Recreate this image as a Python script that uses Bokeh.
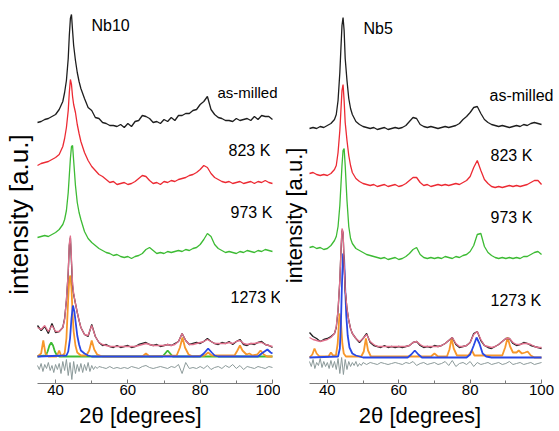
import numpy as np
from bokeh.plotting import figure
from bokeh.layouts import row
from bokeh.models import Range1d, FixedTicker, Label
from bokeh.embed import file_html
from bokeh.resources import INLINE

FONT = "Liberation Sans"

# ---------------- shared 2theta grid for measured patterns (degrees) ----------------
theta = [35, 36, 37, 38, 39, 40, 41, 42, 42.5, 43, 43.5, 43.8, 44.1, 44.4, 44.7, 45, 45.5, 46, 46.5, 47] + list(range(48, 101))

# ---------------- Nb10 (left panel), stacked intensities [a.u.] ----------------
nb10_milled = [261,262,264,265,267,269,274,282,291,303,325,348,365,369,353,338,323,311,302,295,
               285,276,273,266,265,261,260,258,258,257,
               259,256,260,257,262,263,268,267,265,261,
               262,260,264,262,266,263,268,268,270,270,
               273,274,279,282,287,274,269,266,265,263,
               263,262,265,263,264,265,263,267,264,268,
               267,267,264]
nb10_823 = [218,220,221,222,224,226,229,237,245,256,273,291,304,299,287,279,271,259,250,242,
            231,223,217,213,209,207,204,201,202,199,
            200,201,199,200,202,205,208,207,203,200,
            201,199,202,201,203,202,204,205,206,208,
            209,211,214,218,216,210,206,204,202,201,
            202,200,201,202,200,201,202,200,202,201,
            203,201,200]
nb10_973 = [146,147,148,147,149,151,154,159,164,173,191,208,225,237,238,223,198,181,171,164,
            152,145,141,138,135,133,131,130,128,129,
            127,126,127,125,127,128,130,134,136,133,
            130,131,130,132,131,132,133,132,134,133,
            135,136,139,144,150,147,139,135,133,131,
            132,131,130,132,131,133,132,131,133,132,
            134,133,132]
nb10_1273 = [58,53,57,50,60,51,52,56,65,83,111,138,146,121,98,89,80,71,63,56,
             49,47,59,47,41,38,39,37,36,38,
             36,37,38,36,37,39,40,41,39,38,
             39,37,38,39,38,40,42,50,43,39,
             40,41,40,42,45,42,40,39,41,40,
             42,39,42,44,39,38,40,39,41,42,
             39,38,36]
nb10_1273_fit = [56,54,58,52,58,52,52,56,64,84,112,140,148,124,100,90,80,71,63,56,
                 49,48,58,47,41,39,38,37,37,37,
                 37,37,37,37,37,38,39,40,39,38,
                 38,38,38,39,38,39,42,50,43,39,
                 39,40,41,42,44,42,40,40,40,40,
                 41,40,42,43,40,39,40,40,41,41,
                 39,38,37]
nb10_orange_x = [35,36,36.6,37.2,38,40.3,41,41.6,42.5,43,43.5,43.8,44.1,44.4,44.7,45,45.5,46,47,
                 48.5,49.3,50,50.7,51.5,53,64,65,66,73.5,74.4,75.1,75.8,76.8,78,81.2,82.2,83.2,
                 89.5,90.3,91,91.7,92.8,93.6,94.5,95.8,96.7,97.6,98.5,100]
nb10_orange_y = [27,30,43,30,27,27,33,27,30,45,85,105,108,95,70,52,38,31,28,
                 28,33,43,34,29,27,27,30,27,28,36,46,36,29,27,28,31,28,
                 28,33,38,33,29,30,28,29,33,29,27,27]
nb10_blue_x = [35,43,43.5,44,44.4,44.8,45.2,45.6,46,46.5,47,48,49,50,80,81,82.2,83.2,84,85,96,97,98.6,99.5,100]
nb10_blue_y = [27,28,32,45,65,78,72,60,48,39,33,30,28,27,27,30,35,31,28,27,27,30,34,31,30]
nb10_green_x = [35,37.3,37.8,38.3,38.8,39.3,39.8,40.4,41,69.6,70.3,71,71.7,72.4,100]
nb10_green_y = [27,28,32,38,41,38,32,28,27,27,30,33,30,27,27]
nb10_resid_x = list(np.arange(35, 52.01, 0.5)) + list(range(53, 101))
nb10_resid_y = [18,14,20,12,19,15,21,13,18,11,19,14,20,10,22,13,24,8,21,4,22,10,19,12,20,11,19,13,21,12,18,14,17,15,17,
                16,15,17,15,16,15,16,15,17,16,
                15,17,18,16,15,16,17,16,15,17,
                16,19,10,21,15,16,15,17,15,18,
                14,16,17,15,18,16,19,15,18,14,
                17,16,15,17,16,15,17,16]

# ---------------- Nb5 (right panel) ----------------
nb5_milled = [255,256,255,257,256,258,260,264,269,283,311,335,358,366,353,325,303,285,275,269,
              262,259,257,256,255,256,254,255,256,254,
              255,256,255,256,258,262,266,265,259,257,
              256,257,256,255,256,257,256,257,258,260,
              264,267,271,276,277,270,264,261,259,258,
              257,258,257,256,257,258,257,259,258,260,
              261,260,259]
nb5_823 = [210,211,209,208,209,208,210,214,218,231,253,273,293,299,283,261,243,228,218,211,
           205,202,200,199,198,199,197,198,199,197,
           198,199,197,198,200,203,206,206,201,198,
           199,197,198,199,198,199,198,199,200,199,
           201,203,207,216,223,213,204,200,197,196,
           197,196,197,198,197,198,197,198,199,201,
           203,203,199]
nb5_973 = [136,137,135,136,134,135,138,143,147,157,178,198,218,233,235,218,183,157,145,140,
           135,133,131,129,128,127,126,125,126,124,
           125,126,124,125,127,130,134,136,129,126,
           125,126,125,126,125,127,126,125,127,126,
           128,129,132,138,149,150,137,131,128,126,
           125,126,125,126,125,126,125,127,127,129,
           131,132,129]
nb5_1273 = [51,47,45,42,44,45,47,50,56,73,103,131,153,151,121,93,75,63,55,50,
            45,41,45,50,41,38,37,36,38,36,
            37,36,37,36,37,38,41,42,38,36,
            37,36,38,37,38,40,43,46,39,36,
            37,38,41,50,52,43,38,36,35,37,
            39,42,45,45,40,38,39,41,40,38,
            37,36,35]
nb5_1273_fit = [46,44,43,42,43,44,46,50,57,74,104,132,155,152,122,94,75,63,55,50,
                45,42,45,49,42,39,37,37,37,37,
                37,37,37,37,37,38,41,42,39,37,
                37,37,37,37,38,40,43,46,40,37,
                37,38,41,49,52,44,38,37,36,37,
                39,42,45,45,41,39,39,40,40,39,
                37,36,36]
nb5_blue_x = [35,43,43.5,43.8,44.1,44.4,44.7,45,45.3,45.7,46.2,47,48,50,62.5,63.5,64.5,65.5,66.5,
              79,80,81,81.8,82.6,83.5,84.5,86,100]
nb5_blue_y = [26,27,35,60,100,130,125,95,68,48,36,30,28,26,26,29,33,29,26,
              26,29,38,46,40,30,27,26,26]
nb5_orange_x = [35,35.8,36.4,37,37.8,40.3,41,41.6,42.4,42.9,43.4,43.8,44.2,44.6,45.2,49.5,50.2,50.8,51.4,52.2,
                69,70,71,73.5,74.2,74.8,75.4,76.3,79.5,80.5,81.2,89,89.8,90.5,91.2,92,93,93.6,94.5,95.4,96.1,97,98,100]
nb5_orange_y = [26,29,35,30,27,27,31,28,28,40,70,62,40,30,27,27,32,45,33,27,
                27,30,27,27,34,45,35,28,28,33,28,28,36,46,37,31,31,33,30,31,32,28,26,26]
nb5_resid_x = list(np.arange(35, 50.01, 0.5)) + list(range(51, 101))
nb5_resid_y = [22,17,24,15,21,18,25,16,22,17,21,15,23,16,22,14,25,10,26,9,24,14,22,17,21,18,22,17,20,18,21,
               19,21,20,19,21,20,19,20,21,20,
               19,21,20,22,18,20,21,19,20,21,
               19,20,22,18,23,17,20,21,19,22,
               17,21,19,20,21,19,20,21,19,20,
               22,19,20,21,19,20,21,19,20,21]

# axis ticks
major_ticks = [40, 60, 80, 100]
minor_ticks = [50, 70, 90]
axis_span = (35, 100)

C_BLACK = "#1e1e1e"
C_RED = "#ec2a33"
C_GREEN = "#3dbb34"
C_PINK = "#e0708c"
C_ORANGE = "#f7972a"
C_BLUE = "#2848e6"
C_GRAY = "#8c9a9a"


def make_panel(width, x0, x1):
    p = figure(width=width, height=431, output_backend="svg", toolbar_location=None,
               x_range=Range1d(x0, x1), y_range=Range1d(0, 383),
               min_border_left=0, min_border_right=0, min_border_top=0, min_border_bottom=48,
               y_axis_location=None)
    p.outline_line_color = None
    p.xgrid.visible = False
    p.ygrid.visible = False
    p.background_fill_color = "white"
    p.border_fill_color = "white"
    ax = p.xaxis[0]
    ax.bounds = axis_span
    ax.ticker = FixedTicker(ticks=major_ticks, minor_ticks=minor_ticks)
    ax.axis_line_color = "#7a7a7a"
    ax.axis_line_width = 1.2
    ax.major_tick_line_color = "#7a7a7a"
    ax.minor_tick_line_color = "#7a7a7a"
    ax.major_tick_in = 4
    ax.major_tick_out = 0
    ax.minor_tick_in = 3
    ax.minor_tick_out = 0
    ax.major_label_text_font = FONT
    ax.major_label_text_font_size = "15px"
    ax.major_label_text_color = "black"
    ax.major_label_standoff = 1
    ax.axis_label = "2θ [degrees]"
    ax.axis_label_text_font = FONT
    ax.axis_label_text_font_size = "22px"
    ax.axis_label_text_font_style = "normal"
    ax.axis_label_text_color = "black"
    ax.axis_label_standoff = 5
    return p


def add_text(p, x, y, t, size="16px", angle=0.0, align="left"):
    p.add_layout(Label(x=x, y=y, text=t, text_font=FONT, text_font_size=size,
                       text_color="black", text_baseline="middle", text_align=align,
                       angle=angle))


LW = 1.3

# ---------------- left panel ----------------
L = make_panel(280, 24.765, 102.22)
L.line(nb10_green_x, nb10_green_y, line_color=C_GREEN, line_width=1.8)
L.line(nb10_orange_x, nb10_orange_y, line_color=C_ORANGE, line_width=1.8)
L.line(nb10_blue_x, nb10_blue_y, line_color=C_BLUE, line_width=1.8)
L.line(nb10_resid_x, nb10_resid_y, line_color=C_GRAY, line_width=1)
L.line(theta, nb10_1273, line_color=C_BLACK, line_width=LW)
L.line(theta, nb10_1273_fit, line_color=C_PINK, line_width=1.3)
L.line(theta, nb10_973, line_color=C_GREEN, line_width=LW)
L.line(theta, nb10_823, line_color=C_RED, line_width=LW)
L.line(theta, nb10_milled, line_color=C_BLACK, line_width=LW)
add_text(L, 49.94, 358, "Nb10")
add_text(L, 84.80, 291, "as-milled", size="15px")
add_text(L, 87.84, 233, "823 K")
add_text(L, 88.39, 171, "973 K")
add_text(L, 88.39, 86, "1273 K")
add_text(L, 30.02, 169, "intensity [a.u.]", size="26px", angle=np.pi / 2, align="center")

# ---------------- right panel ----------------
R = make_panel(279, 26.877, 105.03)
R.line(nb5_orange_x, nb5_orange_y, line_color=C_ORANGE, line_width=1.8)
R.line(nb5_blue_x, nb5_blue_y, line_color=C_BLUE, line_width=1.8)
R.line(nb5_resid_x, nb5_resid_y, line_color=C_GRAY, line_width=1)
R.line(theta, nb5_1273, line_color=C_BLACK, line_width=LW)
R.line(theta, nb5_1273_fit, line_color=C_PINK, line_width=1.3)
R.line(theta, nb5_973, line_color=C_GREEN, line_width=LW)
R.line(theta, nb5_823, line_color=C_RED, line_width=LW)
R.line(theta, nb5_milled, line_color=C_BLACK, line_width=LW)
add_text(R, 50.13, 355, "Nb5")
add_text(R, 85.42, 288, "as-milled")
add_text(R, 85.70, 228, "823 K")
add_text(R, 85.70, 166, "973 K")
add_text(R, 85.70, 83, "1273 K")
add_text(R, 30.80, 168, "intensity [a.u.]", size="22px", angle=np.pi / 2, align="center")

layout = row(L, R)
open("out.html", "w").write(file_html(layout, INLINE))
